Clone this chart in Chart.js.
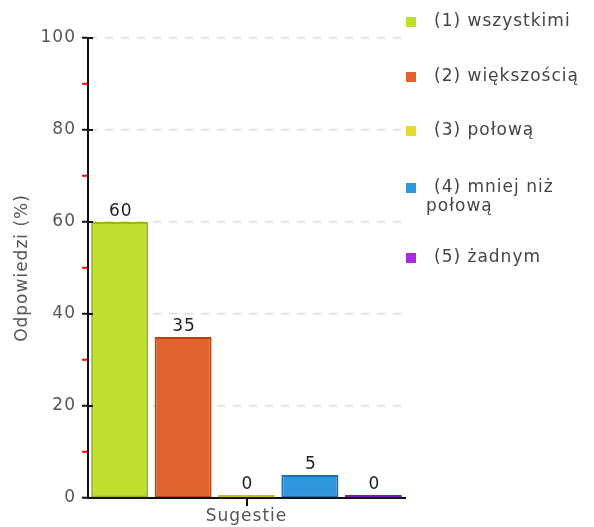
<!DOCTYPE html>
<html>
<head>
<meta charset="utf-8">
<script src="https://cdn.jsdelivr.net/npm/chart.js@4"></script>
<style>
  body { margin: 0; background: #fff; }
  #wrap { width: 594px; height: 527px; }
</style>
</head>
<body>
<div id="wrap"><canvas id="chart"></canvas></div>
<script>
const categories = ["Sugestie"];
const seriesNames = ["(1) wszystkimi", "(2) większością", "(3) połową", "(4) mniej niż połową", "(5) żadnym"];
const legendLines = [["(1) wszystkimi"], ["(2) większością"], ["(3) połową"], ["(4) mniej niż", "połową"], ["(5) żadnym"]];
const seriesValues = [60, 35, 0, 5, 0];
const fillColors = ["#bde02d", "#e0622c", "#e6da2e", "#2f96de", "#a92ae0"];
const borderColors = ["#98b81a", "#b84414", "#cbbd1a", "#1a70b4", "#8510c0"];

const FONT = "'DejaVu Sans', Verdana, sans-serif";

// szersze odstępy między literami, jak w oryginale
const spacing = {
    id: "spacing",
    beforeUpdate(chart) { chart.ctx.letterSpacing = "1px"; },
    beforeDraw(chart) { chart.ctx.letterSpacing = "1px"; }
};

// liczby nad słupkami
const valueLabels = {
    id: "valueLabels",
    afterDatasetsDraw(chart) {
        const ctx = chart.ctx;
        const base = chart.scales.y.getPixelForValue(0);
        ctx.save();
        ctx.font = "17px " + FONT;
        ctx.fillStyle = "#222";
        ctx.textAlign = "center";
        ctx.textBaseline = "alphabetic";
        chart.data.datasets.forEach((ds, i) => {
            const bar = chart.getDatasetMeta(i).data[0];
            ctx.fillText(String(ds.data[0]), bar.x + 1, Math.min(bar.y, base - 3) - 6);
        });
        ctx.restore();
    }
};

// legenda po prawej stronie + znaczniki osi
const sideLegend = {
    id: "sideLegend",
    afterDraw(chart) {
        const ctx = chart.ctx;
        const rows = [22, 77, 131, 188, 258];
        const area = chart.chartArea;
        const y = chart.scales.y;
        ctx.save();
        ctx.font = "17px " + FONT;
        ctx.textBaseline = "middle";
        legendLines.forEach((lines, i) => {
            const ry = rows[i];
            ctx.fillStyle = fillColors[i];
            ctx.fillRect(406, ry - 5, 10, 10);
            ctx.fillStyle = "#444";
            lines.forEach((t, j) => {
                ctx.fillText(t, j === 0 ? 434 : 426, ry + j * 19);
            });
        });
        // główne podziałki na prawo od osi Y
        ctx.fillStyle = "#111";
        [0, 20, 40, 60, 80, 100].forEach(v => {
            ctx.fillRect(area.left, y.getPixelForValue(v) - 1, 5, 2);
        });
        // znacznik kategorii pod osią X
        ctx.fillRect(Math.round((area.left + area.right) / 2) - 1, area.bottom, 2, 8);
        ctx.restore();
    }
};

new Chart(document.getElementById("chart"), {
    type: "bar",
    data: {
        labels: categories,
        datasets: seriesNames.map((name, i) => ({
            label: name,
            data: [seriesValues[i]],
            backgroundColor: fillColors[i],
            borderColor: borderColors[i],
            borderWidth: 2,
            borderSkipped: false,
            minBarLength: 3
        }))
    },
    options: {
        responsive: true,
        maintainAspectRatio: false,
        animation: false,
        layout: { padding: { top: 38, right: 189, left: 0, bottom: 0 } },
        datasets: { bar: { categoryPercentage: 1, barPercentage: 0.9 } },
        plugins: {
            legend: { display: false },
            tooltip: { enabled: false }
        },
        scales: {
            x: {
                afterFit: s => { s.height = 29; },
                grid: { drawOnChartArea: false, drawTicks: false },
                border: { color: "#111", width: 2 },
                ticks: { color: "#555", font: { family: FONT, size: 17 }, padding: 8 }
            },
            y: {
                min: 0,
                max: 100,
                afterFit: s => { s.width = 88; },
                ticks: {
                    stepSize: 10,
                    color: "#555",
                    font: { family: FONT, size: 17 },
                    padding: 6,
                    callback: v => (v % 20 === 0 ? v : "")
                },
                grid: {
                    color: c => (c.tick && c.tick.value % 20 === 0 && c.tick.value > 0 ? "#dcdcdc" : "rgba(0,0,0,0)"),
                    tickColor: c => (c.tick && c.tick.value % 20 === 0 ? "#111" : "#ff0000"),
                    tickLength: 6,
                    lineWidth: 1.5,
                    tickWidth: 2
                },
                border: { color: "#111", width: 2, dash: [8, 8] },
                title: {
                    display: true,
                    text: "Odpowiedzi (%)",
                    color: "#555",
                    font: { family: FONT, size: 17 },
                    padding: { top: 12, bottom: 0 }
                }
            }
        }
    },
    plugins: [spacing, valueLabels, sideLegend]
});
</script>
</body>
</html>
